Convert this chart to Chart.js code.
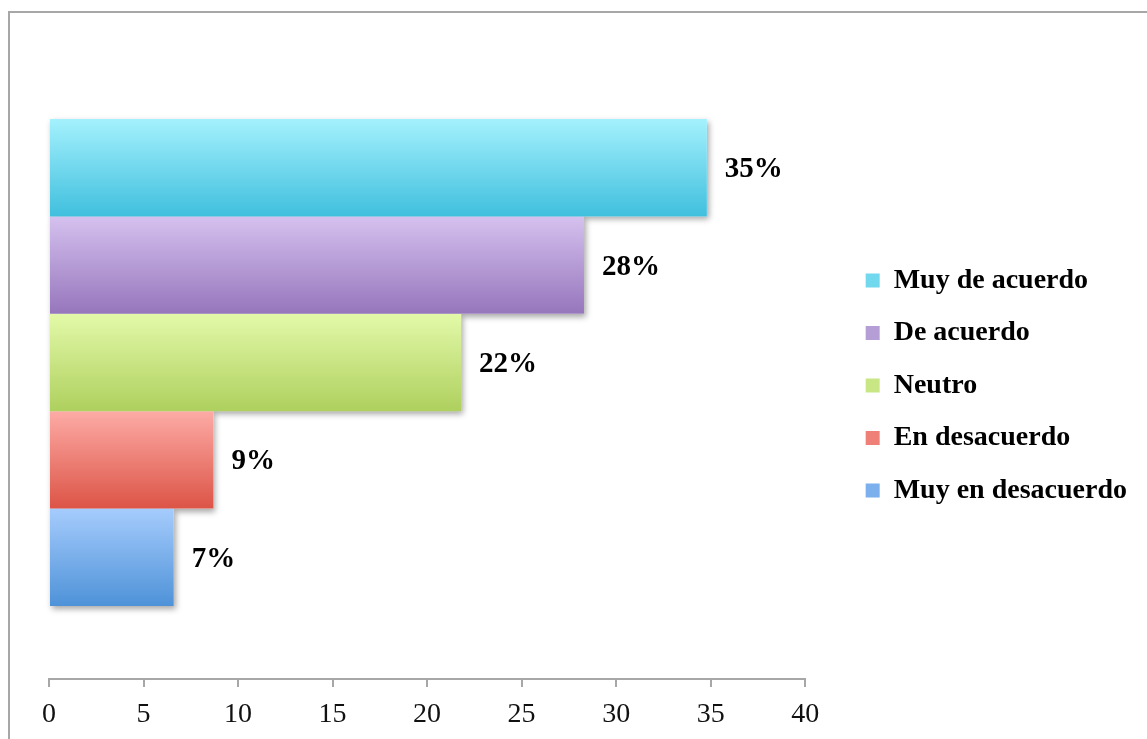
<!DOCTYPE html>
<html>
<head>
<meta charset="utf-8">
<script src="https://cdn.jsdelivr.net/npm/chart.js@4.4.0/dist/chart.umd.min.js"></script>
<style>
  html, body { margin: 0; padding: 0; background: #fff; overflow: hidden; }
  #wrap { position: relative; width: 1147px; height: 739px; }
  #barChart { position: absolute; left: 0; top: 0; }
  #frame {
    position: absolute; left: 8px; top: 11px; width: 1200px; height: 800px;
    border-left: 2px solid #a7a7a7; border-top: 2px solid #a7a7a7;
    pointer-events: none;
  }
</style>
</head>
<body>
<div id="wrap">
  <canvas id="barChart" width="1147" height="739"></canvas>
  <div id="frame"></div>
</div>
<script>
const answers = ['Muy de acuerdo', 'De acuerdo', 'Neutro', 'En desacuerdo', 'Muy en desacuerdo'];
const shares = [34.8, 28.3, 21.8, 8.7, 6.6];
const xTicks = [0, 5, 10, 15, 20, 25, 30, 35, 40];

const topColors = ['#a4f1fd', '#d5c1ef', '#e3f9a9', '#fdaba6', '#a6ccfd'];
const midColors = ['#72d8ee', '#b59dd6', '#c8e784', '#ee8078', '#7bb0ec'];
const bottomColors = ['#40bfde', '#9676bc', '#aed05e', '#dc5446', '#4e92d8'];

const serif = '"Liberation Serif", "Times New Roman", serif';
Chart.defaults.font.family = serif;
Chart.defaults.color = '#111';

// gradient fill + soft drop shadow under each bar, then the % labels
const barLook = {
  id: 'barLook',
  afterLayout(chart) {
    // leave some air between the plot and the legend, and lift it a bit
    const lg = chart.legend;
    lg.left += 36;
    lg.right += 36;
    lg.top -= 9;
    lg.bottom -= 9;
  },
  beforeDatasetsDraw(chart) {
    const ctx = chart.ctx;
    chart.data.datasets.forEach((ds, i) => {
      const bar = chart.getDatasetMeta(i).data[0];
      const top = bar.y - bar.height / 2;
      const g = ctx.createLinearGradient(0, top, 0, top + bar.height);
      g.addColorStop(0, topColors[i]);
      g.addColorStop(1, bottomColors[i]);
      bar.options.backgroundColor = g;

      ctx.save();
      ctx.shadowColor = 'rgba(0, 0, 0, 0.35)';
      ctx.shadowBlur = 6;
      ctx.shadowOffsetX = 2;
      ctx.shadowOffsetY = 3;
      ctx.fillStyle = '#fff';
      ctx.fillRect(bar.base, top, bar.x - bar.base, bar.height);
      ctx.restore();
    });
  },
  afterDatasetsDraw(chart) {
    const ctx = chart.ctx;
    ctx.save();
    ctx.font = 'bold 29px ' + serif;
    ctx.fillStyle = '#000';
    ctx.textBaseline = 'middle';
    ctx.textAlign = 'left';
    chart.data.datasets.forEach((ds, i) => {
      const bar = chart.getDatasetMeta(i).data[0];
      ctx.fillText(Math.round(ds.data[0]) + '%', bar.x + 18, bar.y + 2);
    });
    ctx.restore();
  }
};

const ctx = document.getElementById('barChart').getContext('2d');
new Chart(ctx, {
  type: 'bar',
  data: {
    labels: [''],
    datasets: answers.map((name, i) => ({
      label: name,
      data: [shares[i]],
      backgroundColor: () => midColors[i],
      borderWidth: 0,
      barPercentage: 1,
      categoryPercentage: 0.769
    }))
  },
  options: {
    indexAxis: 'y',
    responsive: false,
    animation: false,
    layout: { padding: { left: 49, top: 46, right: 46, bottom: -4 } },
    scales: {
      x: {
        min: xTicks[0],
        max: xTicks[xTicks.length - 1],
        afterBuildTicks: axis => { axis.ticks = xTicks.map(v => ({ value: v })); },
        grid: { drawOnChartArea: false, drawTicks: true, tickLength: 8, color: '#a7a7a7', lineWidth: 2 },
        border: { color: '#a7a7a7', width: 2 },
        ticks: { font: { size: 28, lineHeight: 1 }, color: '#111', padding: 14, maxRotation: 0 }
      },
      y: { display: false }
    },
    plugins: {
      tooltip: { enabled: false },
      legend: {
        position: 'right',
        align: 'center',
        labels: {
          boxWidth: 14,
          boxHeight: 14,
          padding: 24.5,
          color: '#000',
          font: { size: 28, weight: 'bold' }
        }
      }
    }
  },
  plugins: [barLook]
});
</script>
</body>
</html>
